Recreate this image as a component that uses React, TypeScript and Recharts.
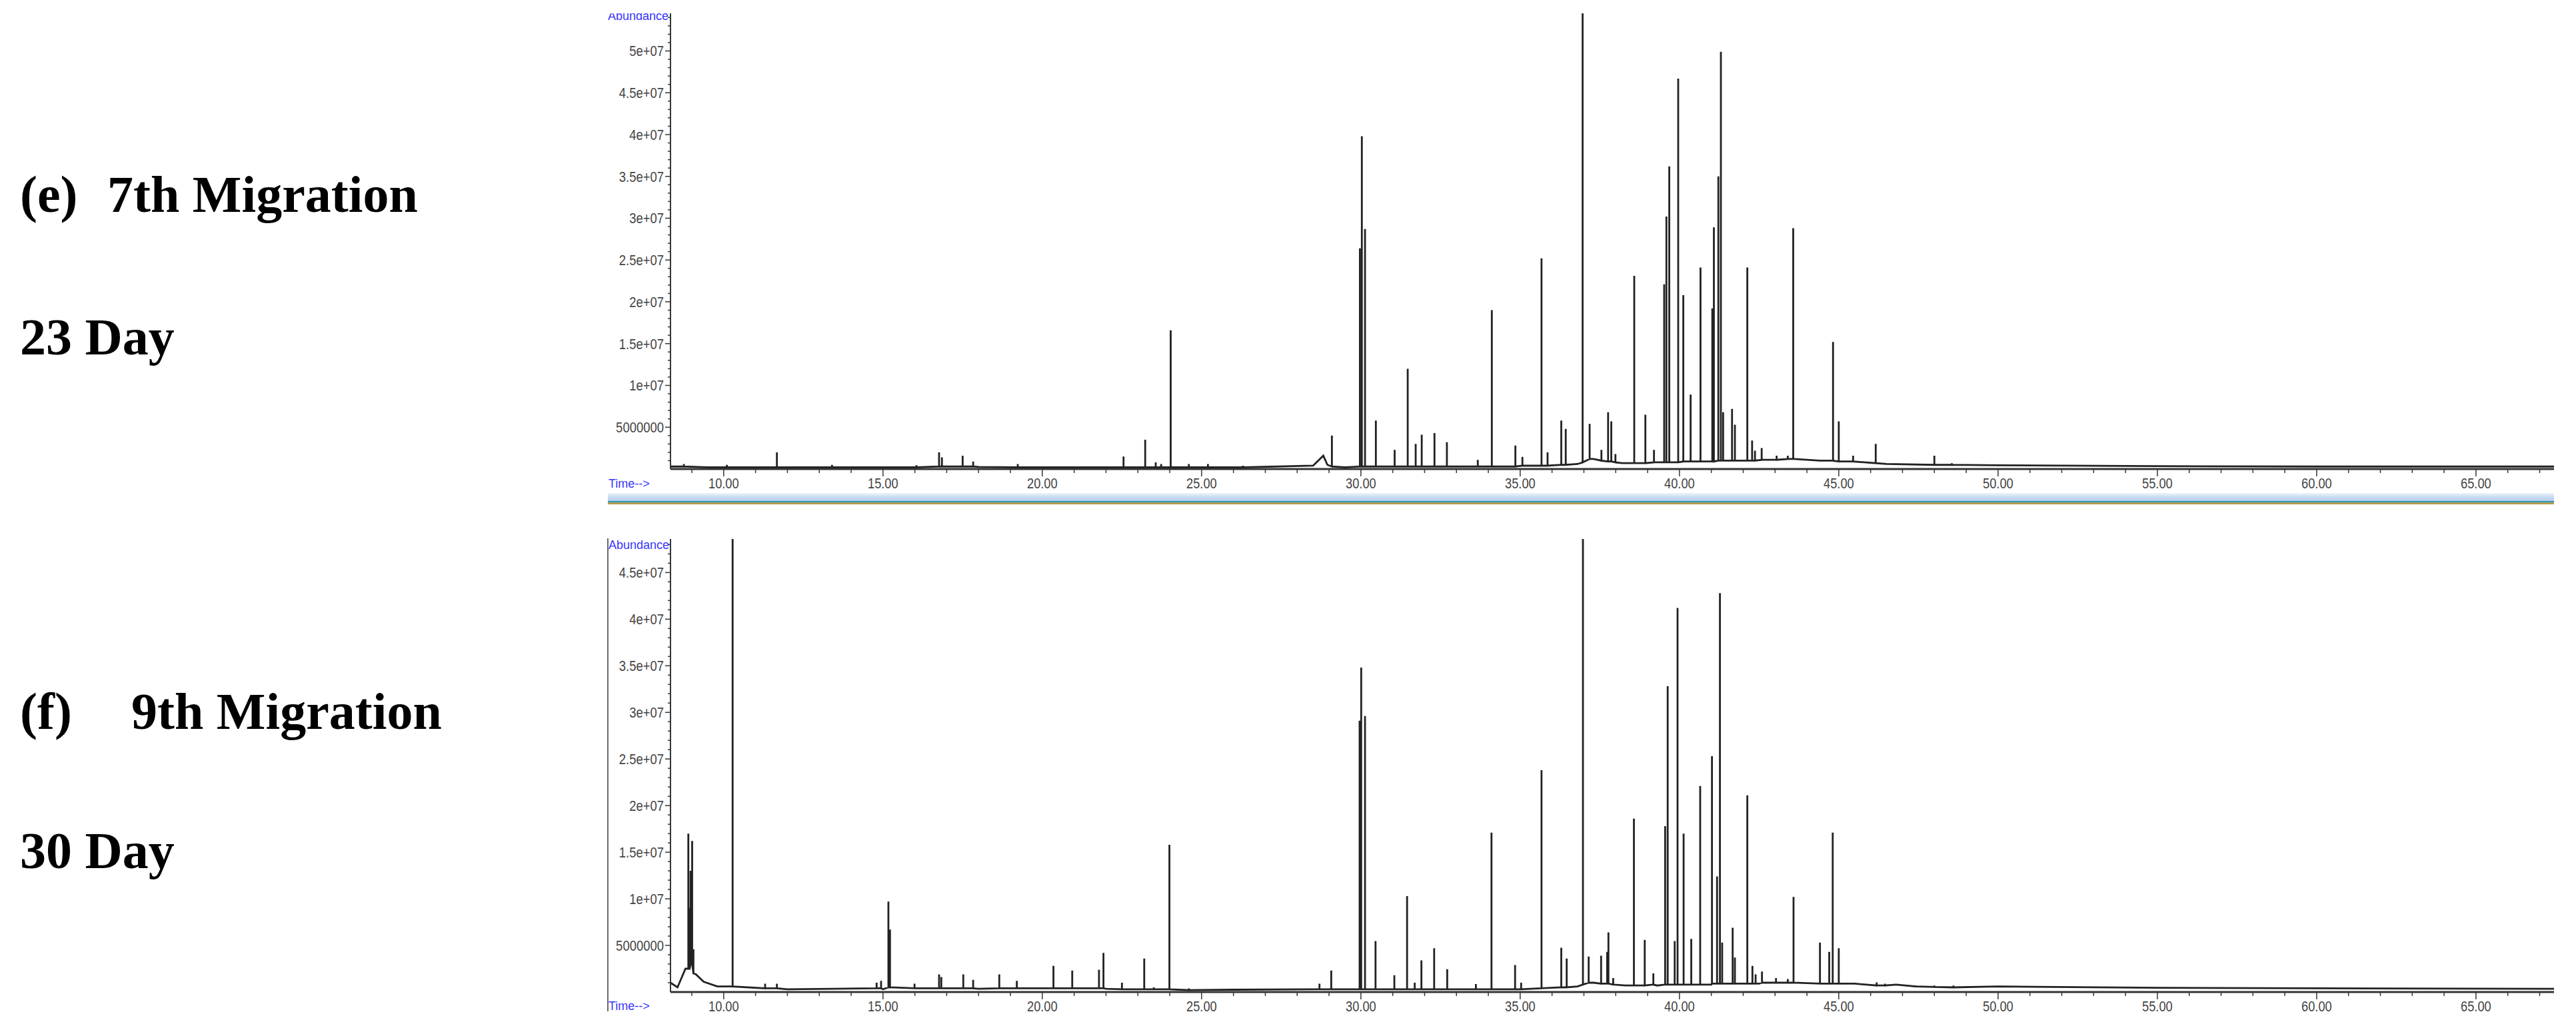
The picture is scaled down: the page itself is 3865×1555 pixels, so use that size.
import React from "react";
import { LineChart, Line, XAxis, YAxis } from "recharts";

// ---------- (e) 7th Migration, 23 Day ----------
const ePeakTime = [8.75, 10.1, 11.67, 13.4, 16.05, 16.76, 16.85, 17.5, 17.83, 19.23, 22.55, 23.23, 23.56, 23.73, 24.03, 24.6, 25.2, 26.3, 29.09, 29.97, 30.03, 30.13, 30.47, 31.06, 31.47, 31.72, 31.91, 32.31, 32.7, 33.67, 34.11, 34.85, 35.07, 35.67, 35.86, 36.29, 36.43, 36.96, 37.18, 37.55, 37.76, 37.86, 37.99, 38.58, 38.93, 39.2, 39.52, 39.59, 39.68, 39.96, 40.12, 40.35, 40.66, 41.03, 41.08, 41.22, 41.3, 41.37, 41.65, 41.74, 42.13, 42.28, 42.37, 42.58, 43.05, 43.4, 43.57, 44.82, 45.0, 45.45, 46.16, 48.0, 48.55];
const ePeakTop = [0.6e6, 0.5e6, 2.0e6, 0.5e6, 0.45e6, 2.0e6, 1.4e6, 1.6e6, 0.9e6, 0.6e6, 1.5e6, 3.5e6, 0.8e6, 0.6e6, 1.66e7, 0.6e6, 0.6e6, 0.4e6, 4.0e6, 2.64e7, 3.98e7, 2.87e7, 5.8e6, 2.3e6, 1.2e7, 3.0e6, 4.1e6, 4.3e6, 3.2e6, 1.1e6, 1.9e7, 2.8e6, 1.45e6, 2.52e7, 2.0e6, 5.8e6, 4.8e6, 5.45e7, 5.4e6, 2.3e6, 6.8e6, 5.7e6, 1.8e6, 2.31e7, 6.5e6, 2.3e6, 2.21e7, 3.02e7, 3.62e7, 4.67e7, 2.08e7, 8.9e6, 2.41e7, 1.92e7, 2.89e7, 3.5e7, 4.99e7, 6.8e6, 7.2e6, 5.3e6, 2.41e7, 3.4e6, 2.2e6, 2.5e6, 1.6e6, 1.6e6, 2.88e7, 1.52e7, 5.7e6, 1.6e6, 3.0e6, 1.6e6, 0.7e6];
const ePeakFoot = [0.3e6, 0.2e6, 0.2e6, 0.2e6, 0.2e6, 0.3e6, 0.3e6, 0.3e6, 0.3e6, 0.2e6, 0.2e6, 0.2e6, 0.2e6, 0.2e6, 0.2e6, 0.2e6, 0.2e6, 0.2e6, 0.3e6, 0.3e6, 0.3e6, 0.3e6, 0.3e6, 0.3e6, 0.3e6, 0.3e6, 0.3e6, 0.3e6, 0.3e6, 0.3e6, 0.3e6, 0.3e6, 0.4e6, 0.4e6, 0.4e6, 0.5e6, 0.5e6, 0.8e6, 1.2e6, 1.0e6, 0.9e6, 0.9e6, 0.8e6, 0.7e6, 0.7e6, 0.8e6, 0.8e6, 0.8e6, 0.8e6, 0.8e6, 0.9e6, 0.9e6, 0.9e6, 0.9e6, 0.9e6, 1.0e6, 1.0e6, 1.0e6, 1.0e6, 1.0e6, 1.0e6, 1.0e6, 1.0e6, 1.1e6, 1.1e6, 1.2e6, 1.2e6, 1.0e6, 0.9e6, 0.9e6, 0.7e6, 0.5e6, 0.5e6];
const eBaseTime = [8.33, 9.5, 12.0, 15.0, 18.0, 20.0, 25.0, 28.5, 28.82, 28.95, 29.5, 33.0, 36.8, 37.3, 38.2, 39.3, 40.5, 41.9, 42.8, 43.6, 44.4, 45.3, 46.5, 48.2, 50.0, 55.0, 60.0, 67.45];
const eBaseLevel = [0.3e6, 0.2e6, 0.2e6, 0.2e6, 0.25e6, 0.2e6, 0.2e6, 0.4e6, 1.6e6, 0.5e6, 0.2e6, 0.3e6, 0.6e6, 1.2e6, 0.7e6, 0.8e6, 0.9e6, 1.0e6, 1.1e6, 1.2e6, 1.0e6, 0.9e6, 0.6e6, 0.5e6, 0.45e6, 0.35e6, 0.3e6, 0.3e6];

// ---------- (f) 9th Migration, 30 Day ----------
const fPeakTime = [8.89, 8.93, 8.96, 9.01, 9.05, 10.28, 11.3, 11.67, 14.8, 14.94, 15.17, 15.22, 15.99, 16.76, 16.83, 17.52, 17.83, 18.65, 19.2, 20.35, 20.94, 21.78, 21.92, 22.5, 23.2, 23.5, 23.99, 24.6, 28.7, 29.07, 29.96, 30.01, 30.13, 30.46, 31.05, 31.45, 31.69, 31.9, 32.3, 32.71, 33.61, 34.1, 34.84, 35.03, 35.67, 36.29, 36.46, 36.97, 37.15, 37.54, 37.73, 37.77, 37.92, 38.57, 38.91, 39.18, 39.55, 39.63, 39.85, 39.94, 40.13, 40.37, 40.65, 41.02, 41.18, 41.27, 41.34, 41.67, 41.74, 42.13, 42.29, 42.39, 42.59, 43.03, 43.4, 43.58, 44.41, 44.7, 44.81, 45.0, 46.19, 46.45, 47.43, 48.0, 48.6];
const fPeakTop = [1.7e7, 9.0e6, 1.3e7, 1.62e7, 4.6e6, 4.86e7, 0.9e6, 0.9e6, 1.0e6, 1.2e6, 9.7e6, 6.7e6, 0.9e6, 1.9e6, 1.6e6, 1.9e6, 1.3e6, 1.9e6, 1.2e6, 2.8e6, 2.3e6, 2.4e6, 4.2e6, 1.0e6, 3.6e6, 0.5e6, 1.58e7, 0.4e6, 0.9e6, 2.3e6, 2.91e7, 3.48e7, 2.96e7, 5.46e6, 1.8e6, 1.03e7, 1.0e6, 3.4e6, 4.7e6, 2.45e6, 0.86e6, 1.71e7, 2.9e6, 1.0e6, 2.38e7, 4.75e6, 3.6e6, 4.86e7, 3.8e6, 3.9e6, 4.3e6, 6.4e6, 1.5e6, 1.86e7, 5.6e6, 2.0e6, 1.78e7, 3.28e7, 5.46e6, 4.12e7, 1.7e7, 5.7e6, 2.21e7, 2.53e7, 1.24e7, 4.28e7, 5.3e6, 6.9e6, 3.7e6, 2.11e7, 2.8e6, 1.9e6, 2.2e6, 1.5e6, 1.4e6, 1.02e7, 5.3e6, 4.3e6, 1.71e7, 4.7e6, 1.04e6, 0.9e6, 0.7e6, 0.7e6, 0.7e6];
const fPeakFoot = [2.5e6, 2.5e6, 3.0e6, 3.0e6, 2.0e6, 0.6e6, 0.4e6, 0.4e6, 0.4e6, 0.4e6, 0.5e6, 0.5e6, 0.4e6, 0.4e6, 0.4e6, 0.4e6, 0.4e6, 0.4e6, 0.4e6, 0.4e6, 0.4e6, 0.4e6, 0.4e6, 0.3e6, 0.3e6, 0.3e6, 0.3e6, 0.2e6, 0.3e6, 0.3e6, 0.3e6, 0.3e6, 0.3e6, 0.3e6, 0.3e6, 0.3e6, 0.3e6, 0.3e6, 0.3e6, 0.3e6, 0.3e6, 0.3e6, 0.3e6, 0.3e6, 0.4e6, 0.5e6, 0.5e6, 0.8e6, 1.0e6, 0.9e6, 0.9e6, 0.9e6, 0.8e6, 0.7e6, 0.7e6, 0.8e6, 0.8e6, 0.8e6, 0.8e6, 0.8e6, 0.8e6, 0.8e6, 0.8e6, 0.9e6, 0.9e6, 0.9e6, 0.9e6, 0.9e6, 0.9e6, 0.9e6, 0.9e6, 0.9e6, 1.0e6, 1.0e6, 1.0e6, 1.0e6, 0.9e6, 0.9e6, 0.9e6, 0.9e6, 0.7e6, 0.7e6, 0.6e6, 0.55e6, 0.5e6];
const fBaseTime = [8.33, 8.55, 8.8, 9.13, 9.37, 9.8, 12.0, 15.0, 18.0, 22.0, 26.0, 28.5, 30.0, 33.0, 36.8, 37.3, 38.3, 39.3, 41.0, 42.5, 43.5, 45.5, 46.8, 50.0, 55.0, 60.0, 67.45];
const fBaseLevel = [1.0e6, 0.5e6, 2.5e6, 1.9e6, 1.1e6, 0.6e6, 0.3e6, 0.3e6, 0.35e6, 0.35e6, 0.25e6, 0.3e6, 0.3e6, 0.3e6, 0.6e6, 1.0e6, 0.7e6, 0.7e6, 0.8e6, 0.9e6, 1.0e6, 0.9e6, 0.8e6, 0.6e6, 0.45e6, 0.4e6, 0.35e6];

// ---------- axes ----------
const timeDomain = [8.33, 67.45];
const timeTicks = Array.from({ length: 59 }, (_, i) => 9 + i); // 9..67 (labels every 5)
const eAbundanceMax = 5.45e7;
const fAbundanceMax = 4.86e7;
const eAbundTicks = Array.from({ length: 54 }, (_, i) => (i + 1) * 1e6);
const fAbundTicks = Array.from({ length: 48 }, (_, i) => (i + 1) * 1e6);

function buildTrace(bt: number[], bv: number[], pt: number[], ph: number[], pf: number[]) {
  const pts: { t: number; v: number; o: number }[] = bt.map((t, i) => ({ t, v: bv[i], o: 0 }));
  pt.forEach((t, i) => {
    pts.push({ t, v: pf[i], o: 1 }, { t, v: ph[i], o: 2 }, { t, v: pf[i], o: 3 });
  });
  pts.sort((a, b) => a.t - b.t || a.o - b.o);
  return pts.map(({ t, v }) => ({ t, v }));
}

const dataE = buildTrace(eBaseTime, eBaseLevel, ePeakTime, ePeakTop, ePeakFoot);
const dataF = buildTrace(fBaseTime, fBaseLevel, fPeakTime, fPeakTop, fPeakFoot);

const TICK_FONT = "'Liberation Sans', Arial, sans-serif";
const AXIS_COLOR = "#353535";
const LABEL_COLOR = "#444";

const fmtAbund = (v: number) => (v === 5e6 ? "5000000" : `${v / 1e7}e+07`);

const YTick = (props: any) => {
  const { x, y, payload } = props;
  const v = payload.value as number;
  const major = Math.round(v / 1e6) % 5 === 0;
  return (
    <g>
      <line x1={x - (major ? 8 : 4)} x2={x} y1={y} y2={y} stroke={AXIS_COLOR} strokeWidth={1.5} />
      {major && (
        <text
          transform={`translate(${x - 10},${y + 8}) scale(0.84,1)`}
          textAnchor="end"
          fontFamily={TICK_FONT}
          fontSize={22}
          fill={LABEL_COLOR}
        >
          {fmtAbund(v)}
        </text>
      )}
    </g>
  );
};

const XTick = (props: any) => {
  const { x, y, payload } = props;
  const v = payload.value as number;
  const major = v % 5 === 0;
  return (
    <g>
      <line x1={x} x2={x} y1={y} y2={y + (major ? 11 : 6)} stroke={AXIS_COLOR} strokeWidth={1.5} />
      {major && (
        <text
          transform={`translate(${x},${y + 29}) scale(0.83,1)`}
          textAnchor="middle"
          fontFamily={TICK_FONT}
          fontSize={22}
          fill={LABEL_COLOR}
        >
          {v.toFixed(2)}
        </text>
      )}
    </g>
  );
};

function Chromatogram({ data, max, ticks, margin }: { data: any[]; max: number; ticks: number[]; margin: any }) {
  return (
    <LineChart width={2960} height={760} data={data} margin={margin}>
      <XAxis
        dataKey="t"
        type="number"
        domain={timeDomain}
        allowDataOverflow
        ticks={timeTicks}
        interval={0}
        height={40}
        tickSize={0}
        tickMargin={0}
        tickLine={false}
        tick={<XTick />}
        axisLine={{ stroke: AXIS_COLOR, strokeWidth: 3 }}
      />
      <YAxis
        type="number"
        domain={[0, max]}
        allowDataOverflow
        ticks={ticks}
        interval={0}
        width={106}
        tickSize={0}
        tickMargin={0}
        tickLine={false}
        tick={<YTick />}
        axisLine={{ stroke: AXIS_COLOR, strokeWidth: 2 }}
      />
      <Line
        dataKey="v"
        type="linear"
        stroke="#222"
        strokeWidth={2.8}
        dot={false}
        activeDot={false}
        isAnimationActive={false}
      />
    </LineChart>
  );
}

const SERIF = "'Liberation Serif', 'Times New Roman', serif";
const BLUE = "#3535ff";

export default function App() {
  return (
    <div style={{ position: "absolute", left: 0, top: 0, width: 3865, height: 1555, background: "#fff", overflow: "hidden" }}>
      <div style={{ position: "absolute", left: 900, top: 0 }}>
        <Chromatogram data={dataE} max={eAbundanceMax} ticks={eAbundTicks} margin={{ top: 20, right: 28, bottom: 16, left: 0 }} />
      </div>
      <div style={{ position: "absolute", left: 900, top: 780 }}>
        <Chromatogram data={dataF} max={fAbundanceMax} ticks={fAbundTicks} margin={{ top: 29, right: 28, bottom: 11, left: 0 }} />
      </div>
      <svg width={3865} height={1555} style={{ position: "absolute", left: 0, top: 0, pointerEvents: "none" }}>
        <defs>
          <clipPath id="abTopClip">
            <rect x={900} y={20} width={200} height={20} />
          </clipPath>
          <linearGradient id="bandGrad" x1="0" y1="0" x2="0" y2="1">
            <stop offset="0" stopColor="#eef4fb" />
            <stop offset="0.5" stopColor="#c9dcf1" />
            <stop offset="1" stopColor="#b3cdea" />
          </linearGradient>
        </defs>
        {/* left labels */}
        <g fontFamily={SERIF} fontWeight="bold" fontSize={78} fill="#000">
          <text x={30} y={318}>(e)</text>
          <text x={161} y={318}>7th Migration</text>
          <text x={30} y={532}>23 Day</text>
          <text x={30} y={1094}>(f)</text>
          <text x={197} y={1094}>9th Migration</text>
          <text x={30} y={1303}>30 Day</text>
        </g>
        {/* instrument-style axis captions */}
        <g fontFamily={TICK_FONT} fontSize={18} fill={BLUE}>
          <text x={912} y={30} clipPath="url(#abTopClip)">Abundance</text>
          <text x={913} y={732}>Time--&gt;</text>
          <text x={913} y={824}>Abundance</text>
          <text x={913} y={1516}>Time--&gt;</text>
        </g>
        {/* frame line of lower panel */}
        <line x1={912} x2={912} y1={808} y2={1518} stroke="#6a6a6a" strokeWidth={2} />
        {/* window separator band */}
        <rect x={912} y={740} width={2920} height={12} fill="url(#bandGrad)" />
        <rect x={912} y={752} width={2920} height={2.5} fill="#2f95ad" />
        <rect x={912} y={754.5} width={2920} height={2.5} fill="#b8963e" />
      </svg>
    </div>
  );
}
